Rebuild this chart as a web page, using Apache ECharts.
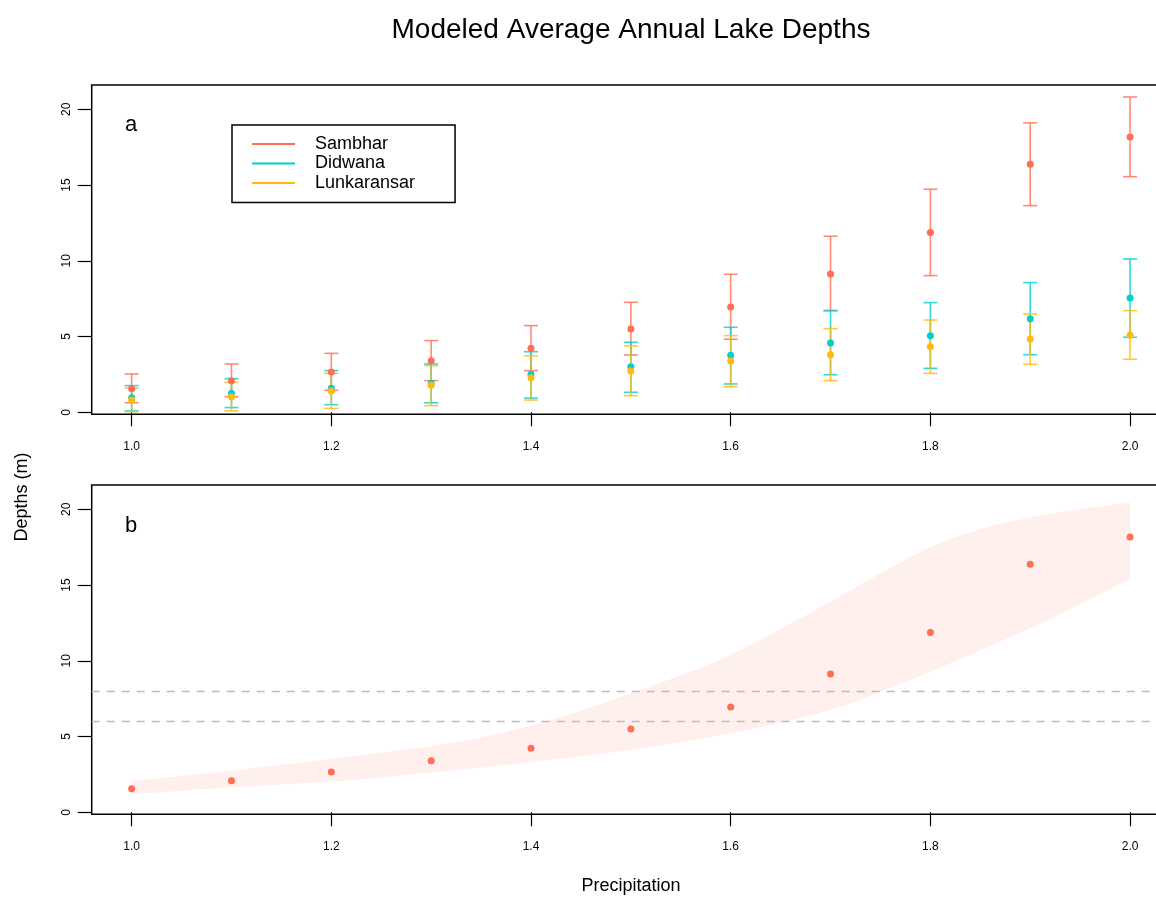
<!DOCTYPE html>
<html>
<head>
<meta charset="utf-8">
<script src="https://cdn.jsdelivr.net/npm/echarts@6/dist/echarts.min.js"></script>
<style>
  html, body { margin: 0; padding: 0; background: #fff; }
  #chart { width: 1156px; height: 897px; }
</style>
</head>
<body>
<div id="chart"></div>
<script>
// Precipitation multipliers (x axis)
const precipitation = [1.0, 1.1, 1.2, 1.3, 1.4, 1.5, 1.6, 1.7, 1.8, 1.9, 2.0];

// Modeled mean depth (m) and interval bounds per lake
const sambharMean = [1.56, 2.09, 2.66, 3.41, 4.22, 5.50, 6.95, 9.13, 11.86, 16.37, 18.17];
const sambharLow  = [0.63, 1.03, 1.45, 2.09, 2.75, 3.78, 4.82, 6.71, 9.02, 13.64, 15.55];
const sambharHigh = [2.53, 3.19, 3.89, 4.73, 5.72, 7.26, 9.11, 11.62, 14.72, 19.10, 20.81];

const didwanaMean = [0.96, 1.25, 1.58, 1.91, 2.51, 3.01, 3.76, 4.57, 5.06, 6.18, 7.54];
const didwanaLow  = [0.09, 0.31, 0.50, 0.63, 0.94, 1.32, 1.87, 2.48, 2.90, 3.80, 4.95];
const didwanaHigh = [1.76, 2.22, 2.75, 3.19, 4.00, 4.62, 5.61, 6.71, 7.24, 8.56, 10.12];

const lunkaransarMean = [0.81, 1.03, 1.41, 1.78, 2.28, 2.73, 3.39, 3.80, 4.33, 4.84, 5.08];
const lunkaransarLow  = [0.04, 0.09, 0.26, 0.44, 0.81, 1.10, 1.69, 2.09, 2.57, 3.17, 3.50];
const lunkaransarHigh = [1.60, 1.98, 2.57, 3.08, 3.72, 4.38, 5.06, 5.52, 6.09, 6.49, 6.71];

// Sambhar uncertainty envelope (panel b)
const bandX     = [1.0, 1.05, 1.1, 1.15, 1.2, 1.25, 1.3, 1.35, 1.4, 1.45, 1.5, 1.55, 1.6, 1.65, 1.7, 1.75, 1.8, 1.85, 1.9, 1.95, 2.0];
const bandUpper = [2.07, 2.40, 2.75, 3.13, 3.54, 3.95, 4.38, 4.95, 5.72, 6.70, 7.85, 9.05, 10.38, 12.10, 13.90, 15.78, 17.50, 18.70, 19.45, 20.00, 20.44];
const bandLower = [1.21, 1.43, 1.65, 1.84, 2.03, 2.30, 2.62, 2.95, 3.30, 3.70, 4.11, 4.62, 5.21, 5.92, 6.75, 7.96, 9.28, 10.70, 12.14, 13.75, 15.40];

// Reference depths drawn as dashed lines in panel b
const referenceDepths = [6, 8];

// Tick labels
const xTicks = [1.0, 1.2, 1.4, 1.6, 1.8, 2.0];
const yTicks = [0, 5, 10, 15, 20];

const FONT = 'Liberation Sans, Arial, Helvetica, sans-serif';
const COLORS = { Sambhar: '#FF6E55', Didwana: '#00CED1', Lunkaransar: '#FFB90F' };

const gridBase = { left: 91.7, width: 1078.3, height: 329.3, show: true,
  borderColor: '#000', borderWidth: 1.5, backgroundColor: 'transparent',
  containLabel: false, outerBoundsMode: 'none' };

function xAxis(gridIndex) {
  return {
    type: 'value', gridIndex, min: 0.96, max: 2.04,
    axisLine: { show: false }, splitLine: { show: false },
    axisTick: { show: true, length: 14, customValues: xTicks, lineStyle: { color: '#000', width: 1.2 } },
    axisLabel: { customValues: xTicks, formatter: v => v.toFixed(1), fontSize: 12,
      color: '#000', margin: 26, fontFamily: FONT }
  };
}
function yAxis(gridIndex) {
  return {
    type: 'value', gridIndex, min: -0.132, max: 21.6,
    axisLine: { show: false }, splitLine: { show: false },
    axisTick: { show: true, length: 14, customValues: yTicks, lineStyle: { color: '#000', width: 1.2 } },
    axisLabel: { customValues: yTicks, rotate: 90, fontSize: 12, color: '#000',
      margin: 19, fontFamily: FONT }
  };
}

function errorBars(name, color, low, high) {
  return {
    name, type: 'custom', xAxisIndex: 0, yAxisIndex: 0,
    itemStyle: { color },
    data: precipitation.map((p, i) => [p, low[i], high[i]]),
    encode: { x: 0, y: [1, 2] },
    renderItem: (params, api) => {
      const x = api.value(0);
      const lo = api.coord([x, api.value(1)]);
      const hi = api.coord([x, api.value(2)]);
      const w = 7;
      const style = { stroke: color, lineWidth: 1.6, opacity: 0.8, fill: null };
      return { type: 'group', children: [
        { type: 'line', shape: { x1: lo[0], y1: lo[1], x2: hi[0], y2: hi[1] }, style },
        { type: 'line', shape: { x1: lo[0] - w, y1: lo[1], x2: lo[0] + w, y2: lo[1] }, style },
        { type: 'line', shape: { x1: hi[0] - w, y1: hi[1], x2: hi[0] + w, y2: hi[1] }, style }
      ] };
    }
  };
}
function meanPoints(name, color, mean, axisIndex) {
  return {
    name, type: 'scatter', xAxisIndex: axisIndex, yAxisIndex: axisIndex,
    symbol: 'circle', symbolSize: 7, itemStyle: { color, opacity: 1 },
    data: precipitation.map((p, i) => [p, mean[i]])
  };
}

// Smooth curve through pixel points (Catmull-Rom as cubic Bezier segments)
function curveCommands(pts) {
  let d = '';
  for (let i = 0; i < pts.length - 1; i++) {
    const p0 = pts[Math.max(i - 1, 0)], p1 = pts[i], p2 = pts[i + 1], p3 = pts[Math.min(i + 2, pts.length - 1)];
    const c1 = [p1[0] + (p2[0] - p0[0]) / 6, p1[1] + (p2[1] - p0[1]) / 6];
    const c2 = [p2[0] - (p3[0] - p1[0]) / 6, p2[1] - (p3[1] - p1[1]) / 6];
    d += ` C ${c1[0]} ${c1[1]} ${c2[0]} ${c2[1]} ${p2[0]} ${p2[1]}`;
  }
  return d;
}

const option = {
  animation: false,
  backgroundColor: '#fff',
  title: {
    text: 'Modeled Average Annual Lake Depths', left: 631, top: 16, textAlign: 'center', padding: 0,
    textStyle: { fontSize: 28, fontWeight: 'normal', color: '#000', fontFamily: FONT }
  },
  legend: {
    orient: 'vertical', left: 232, top: 125, selectedMode: false,
    data: ['Sambhar', 'Didwana', 'Lunkaransar'].map(n => ({ name: n, icon: 'rect', itemStyle: { color: COLORS[n] } })),
    itemWidth: 43, itemHeight: 2, itemGap: 1.5,
    borderColor: '#000', borderWidth: 1.5, borderRadius: 0, padding: [10, 40, 10.5, 20],
    textStyle: { fontSize: 18, color: '#000', fontFamily: FONT, padding: [0, 0, 0, 15] }
  },
  grid: [
    Object.assign({ top: 85 }, gridBase),
    Object.assign({ top: 485 }, gridBase)
  ],
  xAxis: [xAxis(0), xAxis(1)],
  yAxis: [yAxis(0), yAxis(1)],
  graphic: [
    { type: 'text', x: 22, y: 497, rotation: Math.PI / 2,
      style: { text: 'Depths (m)', font: '18px ' + FONT, fill: '#000',
        align: 'center', verticalAlign: 'middle', textAlign: 'center', textVerticalAlign: 'middle' } },
    { type: 'text', x: 631, y: 886,
      style: { text: 'Precipitation', font: '18px ' + FONT, fill: '#000',
        align: 'center', verticalAlign: 'middle', textAlign: 'center', textVerticalAlign: 'middle' } },
    { type: 'text', x: 131, y: 125,
      style: { text: 'a', font: '22px ' + FONT, fill: '#000',
        align: 'center', verticalAlign: 'middle', textAlign: 'center', textVerticalAlign: 'middle' } },
    { type: 'text', x: 131, y: 526,
      style: { text: 'b', font: '22px ' + FONT, fill: '#000',
        align: 'center', verticalAlign: 'middle', textAlign: 'center', textVerticalAlign: 'middle' } }
  ],
  series: [
    errorBars('Sambhar', COLORS.Sambhar, sambharLow, sambharHigh),
    meanPoints('Sambhar', COLORS.Sambhar, sambharMean, 0),
    errorBars('Didwana', COLORS.Didwana, didwanaLow, didwanaHigh),
    meanPoints('Didwana', COLORS.Didwana, didwanaMean, 0),
    errorBars('Lunkaransar', COLORS.Lunkaransar, lunkaransarLow, lunkaransarHigh),
    meanPoints('Lunkaransar', COLORS.Lunkaransar, lunkaransarMean, 0),
    {
      name: 'Sambhar range', type: 'custom', xAxisIndex: 1, yAxisIndex: 1,
      data: [[bandX[0], bandLower[0]]],
      renderItem: (params, api) => {
        const upper = bandX.map((x, i) => api.coord([x, bandUpper[i]]));
        const lower = bandX.map((x, i) => api.coord([x, bandLower[i]])).reverse();
        const d = `M ${upper[0][0]} ${upper[0][1]}` + curveCommands(upper)
          + ` L ${lower[0][0]} ${lower[0][1]}` + curveCommands(lower) + ' Z';
        return { type: 'path', shape: { pathData: d }, style: { fill: '#FFEFED', stroke: null } };
      },
      markLine: {
        silent: true, symbol: 'none', label: { show: false },
        lineStyle: { color: '#BDBDBD', width: 1.3, type: [8, 7] },
        data: referenceDepths.map(d => ({ yAxis: d }))
      }
    },
    meanPoints('Sambhar mean', COLORS.Sambhar, sambharMean, 1)
  ]
};

echarts.init(document.getElementById('chart')).setOption(option);
</script>
</body>
</html>
